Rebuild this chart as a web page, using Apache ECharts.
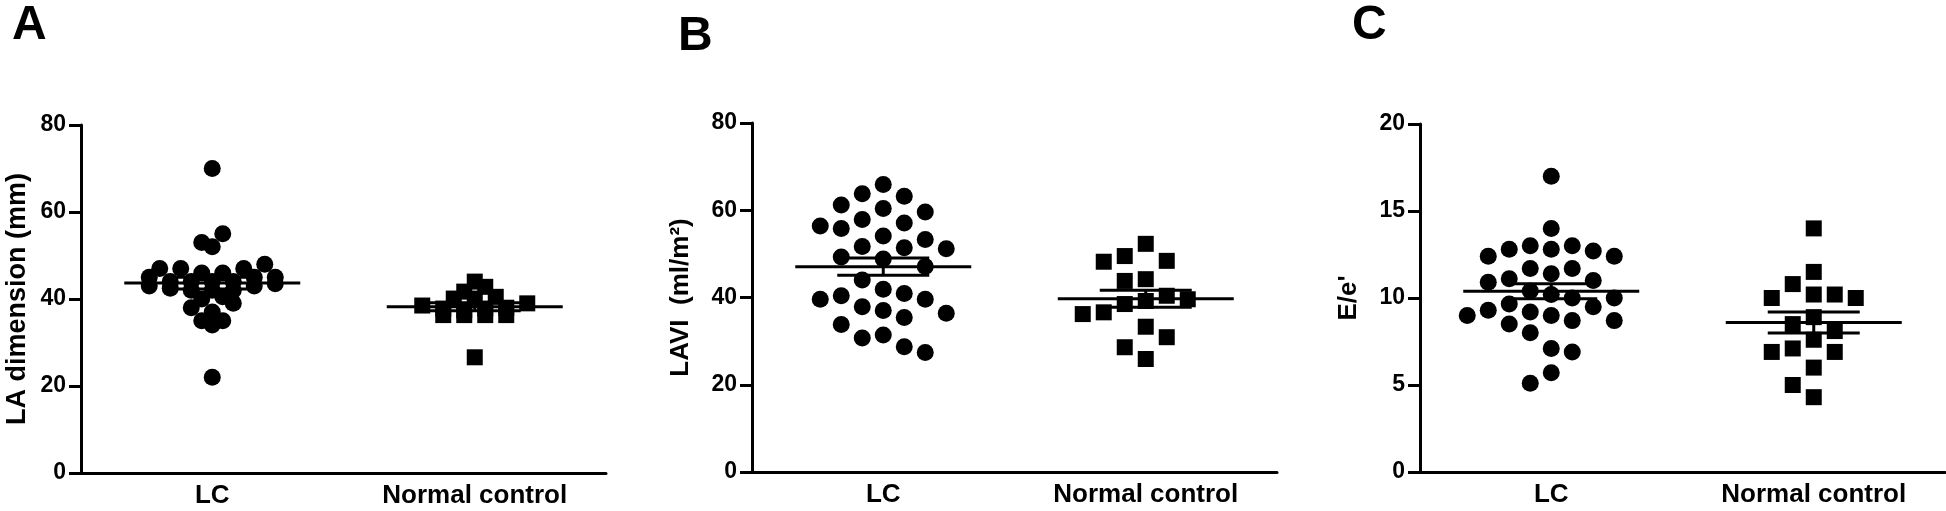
<!DOCTYPE html>
<html><head><meta charset="utf-8">
<script src="https://cdn.jsdelivr.net/npm/echarts@6/dist/echarts.min.js"></script>
<style>html,body{margin:0;padding:0;background:#fff}#c{width:1946px;height:511px}</style>
</head><body><div id="c"></div>
<script>
// ---- data ----
const categories = ["LC", "Normal control"];
const panelLetters = ["A", "B", "C"];
const yTitles = ["LA dimension (mm)", "LAVI  (ml/m²)", "E/e'"];
const yMax = [80, 80, 20];
const yInterval = [20, 20, 5];

const laLC = [70, 55, 53, 52, 48, 47, 47, 47, 46, 46, 45, 45, 45, 44, 44, 44, 44, 43.5, 43, 43, 42.5, 42, 42, 42, 40.5, 40, 39, 38, 37, 35, 35, 34, 22];
const laNC = [44.0, 42.8, 41.7, 40.5, 40.1, 40.1, 39.0, 38.5, 38.0, 37.8, 37.8, 37.4, 36.3, 36.3, 36.3, 36.3, 26.6];
const laviLC = [65.9, 63.8, 63.2, 61.2, 60.4, 59.6, 57.9, 57.1, 56.4, 55.8, 54.1, 53.3, 51.7, 51.2, 51.4, 49.3, 48.8, 47.1, 44.0, 41.9, 40.4, 40.9, 39.6, 39.6, 37.9, 37.0, 36.4, 35.4, 33.8, 31.4, 30.7, 28.7, 27.4];
const laviNC = [52.3, 48.2, 49.5, 48.4, 44.2, 43.8, 40.4, 39.2, 39.6, 38.5, 36.6, 36.2, 33.3, 30.9, 28.6, 25.9];
const eeLC = [17.0, 14.0, 13.0, 12.4, 12.8, 12.7, 12.8, 13.0, 12.4, 11.7, 11.4, 11.7, 11.0, 11.1, 10.9, 10.4, 10.2, 10.0, 10.0, 9.65, 9.5, 9.3, 9.2, 9.0, 9.0, 8.7, 8.7, 8.5, 8.0, 7.1, 6.9, 5.7, 5.1];
const eeNC = [14.0, 11.5, 10.8, 10.2, 10.0, 10.0, 10.2, 8.9, 8.5, 8.1, 7.6, 7.1, 6.9, 6.9, 6.0, 5.0, 4.3];

const groups = [[laLC, laNC], [laviLC, laviNC], [eeLC, eeNC]];

// ---- layout / style ----
const FONT = "'Liberation Sans', Arial, sans-serif";
const grids = [
  { left: 81, top: 125, width: 525, height: 348 },
  { left: 752, top: 123, width: 525, height: 349 },
  { left: 1420, top: 124, width: 525, height: 348 }
];
const nameGaps = [50, 58, 58];
const titleSizes = [27, 26, 26];
const letterPos = [[12, 2], [678, 13], [1352, 2]];
// scatter arrangement per panel: dense panel uses rows, the others use columns
const swarmMode = ['rows', 'cols', 'cols'];
const swarmGap = [10, 21, 20];   // row height (rows) or min vertical distance in a column (cols), px
const swarmCol = 21;             // horizontal spacing, px

const chart = echarts.init(document.getElementById('c'), null, { renderer: 'canvas' });

chart.setOption({
  animation: false,
  backgroundColor: '#ffffff',
  grid: grids,
  xAxis: grids.map((g, i) => ({
    type: 'category', gridIndex: i, data: categories,
    axisLine: { lineStyle: { color: '#000', width: 3 } },
    axisTick: { alignWithLabel: true, length: 10, lineStyle: { color: '#000', width: 3 } },
    axisLabel: { color: '#000', fontSize: 26, fontWeight: 'bold', fontFamily: FONT, margin: 10 },
    splitLine: { show: false }
  })),
  yAxis: grids.map((g, i) => ({
    type: 'value', gridIndex: i, min: 0, max: yMax[i], interval: yInterval[i],
    name: yTitles[i], nameLocation: 'middle', nameGap: nameGaps[i],
    nameTextStyle: { color: '#000', fontSize: titleSizes[i], fontWeight: 'bold', fontFamily: FONT },
    axisLine: { show: true, lineStyle: { color: '#000', width: 3 } },
    axisTick: { show: true, length: 12, lineStyle: { color: '#000', width: 3 } },
    axisLabel: { color: '#000', fontSize: 23, fontWeight: 'bold', fontFamily: FONT, margin: 15 },
    splitLine: { show: false }
  })),
  graphic: panelLetters.map((t, i) => ({
    type: 'text', left: letterPos[i][0], top: letterPos[i][1],
    style: { text: t, fontSize: 48, fontWeight: 'bold', fontFamily: FONT, fill: '#000' }
  })),
  series: []
});

// column swarm: each point goes to the free column nearest the centre (pixel space)
function swarmCols(values, ppu, colW, minGap) {
  const order = values.map((v, i) => i).sort((a, b) => values[b] - values[a]);
  const cols = {};
  const off = new Array(values.length).fill(0);
  order.forEach(i => {
    const y = values[i] * ppu;
    const free = c => (cols[c] || []).every(yy => Math.abs(yy - y) >= minGap);
    for (let k = 0; k < 40; k++) {
      let cand = k === 0 ? [0] : [-k, k];
      if (k > 0 && (cols[k] || []).length < (cols[-k] || []).length) cand = [k, -k];
      const c = cand.find(free);
      if (c !== undefined) {
        (cols[c] = cols[c] || []).push(y);
        off[i] = c * colW;
        return;
      }
    }
  });
  return off;
}

// row swarm: values binned into rows of fixed pixel height, each row centred
function swarmRows(values, ppu, colW, rowH) {
  const rows = {};
  values.forEach((v, i) => {
    const r = Math.floor(v * ppu / rowH + 1e-9);
    (rows[r] = rows[r] || []).push(i);
  });
  const off = new Array(values.length).fill(0);
  Object.values(rows).forEach(idx => {
    const k = idx.length;
    const slots = [];
    for (let j = 0; j < k; j++) slots.push((j - (k - 1) / 2) * colW);
    // most central slots first; alternate sides
    slots.sort((a, b) => Math.abs(a) - Math.abs(b) || a - b);
    idx.sort((a, b) => values[a] - values[b]);
    idx.forEach((i, j) => { off[i] = slots[j]; });
  });
  return off;
}

function stats(arr) {
  const n = arr.length;
  const m = arr.reduce((a, b) => a + b, 0) / n;
  const sd = Math.sqrt(arr.reduce((a, b) => a + (b - m) * (b - m), 0) / (n - 1));
  return [m, sd / Math.sqrt(n)];
}

const series = [];
groups.forEach((pair, p) => {
  const ppu = chart.convertToPixel({ yAxisIndex: p }, 0) - chart.convertToPixel({ yAxisIndex: p }, 1);
  pair.forEach((vals, ci) => {
    const offs = swarmMode[p] === 'rows'
      ? swarmRows(vals, ppu, swarmCol, swarmGap[p])
      : swarmCols(vals, ppu, swarmCol, swarmGap[p]);
    series.push({
      type: 'scatter', xAxisIndex: p, yAxisIndex: p,
      symbol: ci === 0 ? 'circle' : 'rect',
      symbolSize: ci === 0 ? 17 : 16,
      itemStyle: { color: '#000', opacity: 1 },
      silent: true, z: 2,
      data: vals.map((v, k) => ({ value: [ci, v], symbolOffset: [offs[k], 0] }))
    });
  });
  series.push({
    type: 'custom', xAxisIndex: p, yAxisIndex: p, silent: true, z: 5,
    data: pair.map((vals, ci) => [ci].concat(stats(vals))),
    renderItem: (params, api) => {
      const c = api.value(0), m = api.value(1), s = api.value(2);
      const pm = api.coord([c, m]), pu = api.coord([c, m + s]), pd = api.coord([c, m - s]);
      const st = { stroke: '#000', lineWidth: 3 };
      return {
        type: 'group', children: [
          { type: 'line', shape: { x1: pm[0] - 88, y1: pm[1], x2: pm[0] + 88, y2: pm[1] }, style: st },
          { type: 'line', shape: { x1: pm[0] - 46, y1: pu[1], x2: pm[0] + 46, y2: pu[1] }, style: st },
          { type: 'line', shape: { x1: pm[0] - 46, y1: pd[1], x2: pm[0] + 46, y2: pd[1] }, style: st },
          { type: 'line', shape: { x1: pm[0], y1: pu[1], x2: pm[0], y2: pd[1] }, style: st }
        ]
      };
    }
  });
});
chart.setOption({ series: series });
</script>
</body></html>
